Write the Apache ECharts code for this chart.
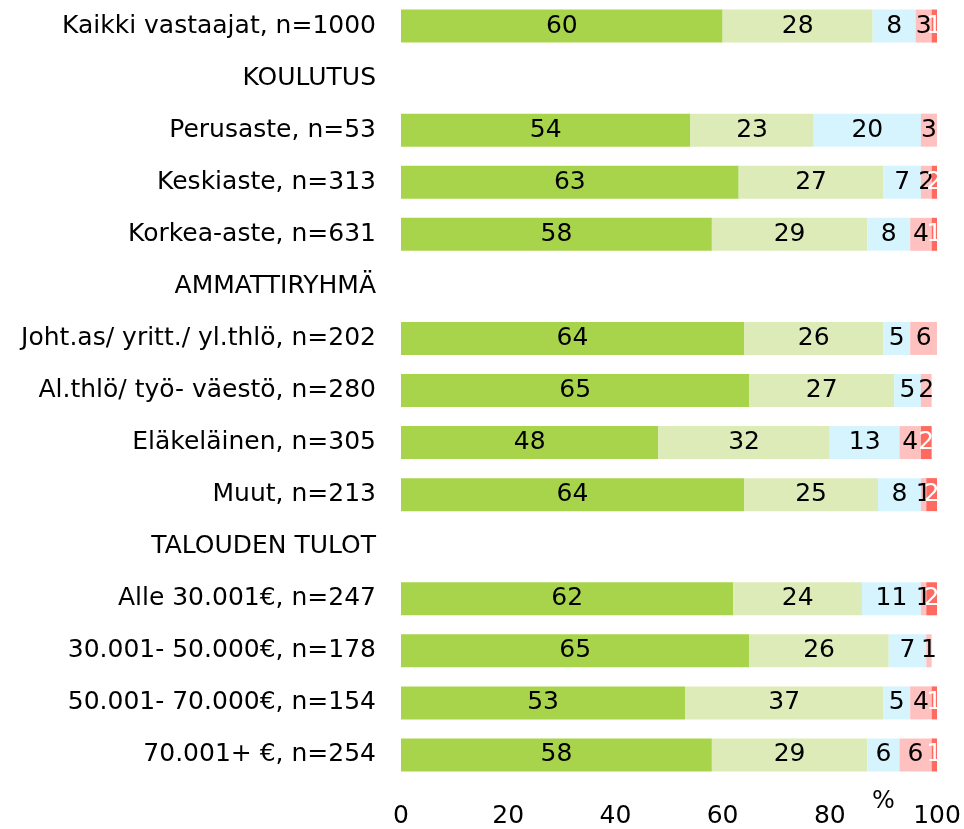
<!DOCTYPE html>
<html>
<head>
<meta charset="utf-8">
<script src="https://cdn.jsdelivr.net/npm/echarts@6/dist/echarts.min.js"></script>
<style>
  html, body { margin: 0; padding: 0; background: #fff; }
  #chart { width: 964px; height: 829px; }
</style>
</head>
<body>
<div id="chart"></div>
<script>
const categories = [
    'Kaikki vastaajat, n=1000',
    'KOULUTUS',
    'Perusaste, n=53',
    'Keskiaste, n=313',
    'Korkea-aste, n=631',
    'AMMATTIRYHMÄ',
    'Joht.as/ yritt./ yl.thlö, n=202',
    'Al.thlö/ työ- väestö, n=280',
    'Eläkeläinen, n=305',
    'Muut, n=213',
    'TALOUDEN TULOT',
    'Alle 30.001€, n=247',
    '30.001- 50.000€, n=178',
    '50.001- 70.000€, n=154',
    '70.001+ €, n=254'
]
// '-' = no bar (header rows or zero share)
const s1 = [60, '-', 54, 63, 58, '-', 64, 65, 48, 64, '-', 62, 65, 53, 58]
const s2 = [28, '-', 23, 27, 29, '-', 26, 27, 32, 25, '-', 24, 26, 37, 29]
const s3 = [8, '-', 20, 7, 8, '-', 5, 5, 13, 8, '-', 11, 7, 5, 6]
const s4 = [3, '-', 3, 2, 4, '-', 6, 2, 4, 1, '-', 1, 1, 4, 6]
const s5 = [1, '-', '-', 2, 1, '-', '-', '-', 2, 2, '-', 2, '-', 1, 1]
const xTicks = [0, 20, 40, 60, 80, 100]

const colors = ['#a8d44b', '#dcebb8', '#d5f4fd', '#ffc1bf', '#ff6a60']
const font = 'DejaVu Sans'
const fs = 25

const myChart = echarts.init(document.getElementById('chart'))

function bar(data, i, labelColor) {
    return {
        type: 'bar',
        stack: 'all',
        data: data,
        barWidth: 33,
        itemStyle: { color: colors[i] },
        label: {
            show: true,
            position: 'inside',
            color: labelColor,
            fontFamily: font,
            fontSize: fs
        }
    }
}

const option = {
    animation: false,
    grid: {
        left: 401,
        right: 27,
        top: -5,
        bottom: 47
    },
    xAxis: {
        type: 'value',
        min: xTicks[0],
        max: xTicks[xTicks.length - 1],
        interval: 20,
        axisLine: { show: false },
        axisTick: { show: false },
        splitLine: { show: false },
        axisLabel: {
            color: '#000',
            fontFamily: font,
            fontSize: fs,
            margin: 23
        }
    },
    yAxis: {
        type: 'category',
        inverse: true,
        data: categories,
        axisLine: { show: false },
        axisTick: { show: false },
        axisLabel: {
            color: '#000',
            fontFamily: font,
            fontSize: fs,
            margin: 25
        }
    },
    graphic: [{
        type: 'text',
        left: 872,
        top: 790,
        style: { text: '%', font: '24px "DejaVu Sans"', fill: '#000' }
    }],
    series: [
        bar(s1, 0, '#000'),
        bar(s2, 1, '#000'),
        bar(s3, 2, '#000'),
        bar(s4, 3, '#000'),
        bar(s5, 4, '#fff')
    ]
}

myChart.setOption(option)
</script>
</body>
</html>
